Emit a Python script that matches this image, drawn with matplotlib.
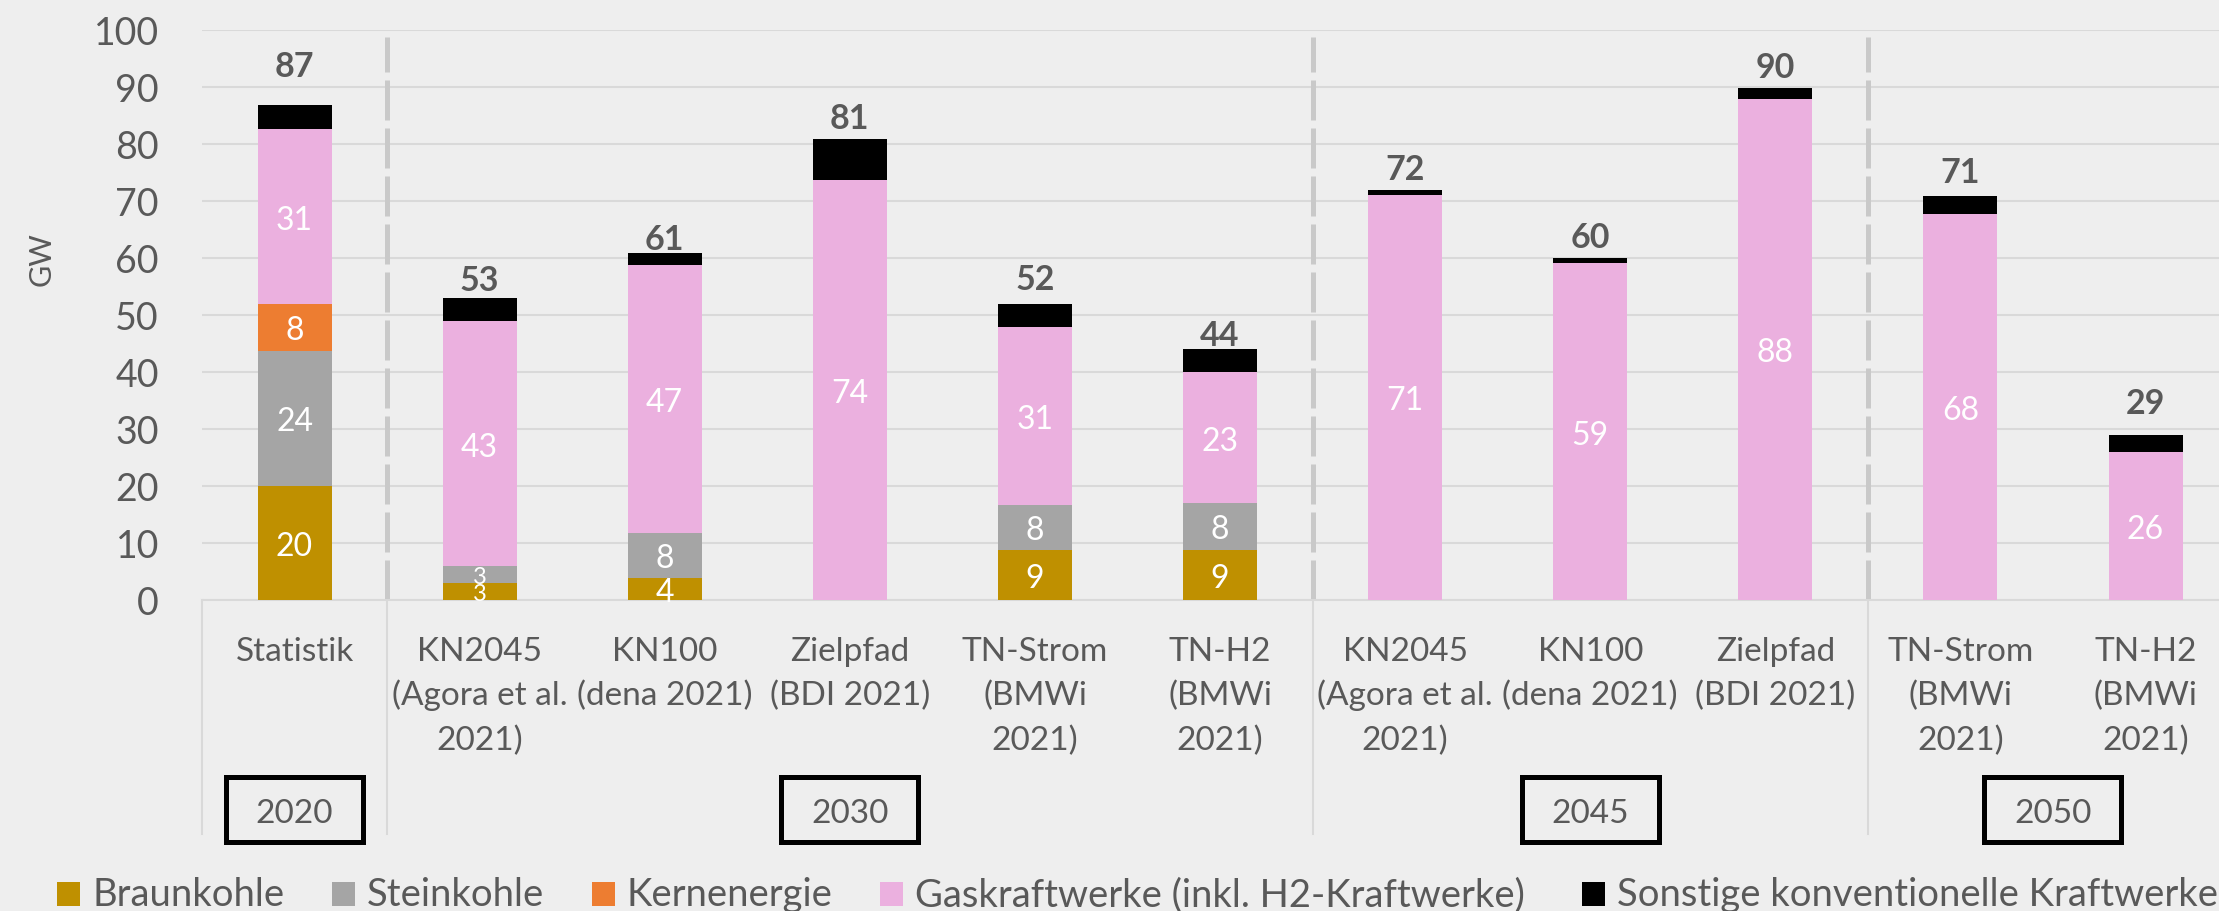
import matplotlib
matplotlib.use("Agg")
import matplotlib.pyplot as plt
from matplotlib.patches import Rectangle
from matplotlib.lines import Line2D
import numpy as np

plt.rcParams['font.family'] = ['Lato', 'DejaVu Sans']

# ---------------- data ----------------
categories = [
    ["Statistik"],
    ["KN2045", "(Agora et al.", "2021)"],
    ["KN100", "(dena 2021)"],
    ["Zielpfad", "(BDI 2021)"],
    ["TN-Strom", "(BMWi", "2021)"],
    ["TN-H2", "(BMWi", "2021)"],
    ["KN2045", "(Agora et al.", "2021)"],
    ["KN100", "(dena 2021)"],
    ["Zielpfad", "(BDI 2021)"],
    ["TN-Strom", "(BMWi", "2021)"],
    ["TN-H2", "(BMWi", "2021)"],
]
years = ["2020", "2030", "2045", "2050"]
year_centers = [0, 3, 7, 9.5]
group_bounds = [-0.5, 0.5, 5.5, 8.5]
dashed_bounds = [0.5, 5.5, 8.5]

series_names = ["Braunkohle", "Steinkohle", "Kernenergie",
                "Gaskraftwerke (inkl. H2-Kraftwerke)",
                "Sonstige konventionelle Kraftwerke"]
braunkohle = [20.0, 2.9, 3.8, 0, 8.8, 8.8, 0, 0, 0, 0, 0]
steinkohle = [23.7, 2.95, 7.95, 0, 7.9, 8.1, 0, 0, 0, 0, 0]
kernenergie = [8.2, 0, 0, 0, 0, 0, 0, 0, 0, 0, 0]
gas = [30.6, 43.0, 46.95, 73.7, 31.1, 23.0, 71.0, 59.0, 87.8, 67.7, 25.9]
sonstige = [4.3, 4.0, 2.1, 7.1, 4.1, 4.1, 0.9, 1.0, 2.0, 3.2, 3.0]

colors = ["#BF9000", "#A5A5A5", "#ED7D31", "#EBB0DF", "#000000"]
label_series = [True, True, True, True, False]

yticks = [0, 10, 20, 30, 40, 50, 60, 70, 80, 90, 100]

# style: lift of each total label above its bar (points)
total_label_lift = [21, 6, 3, 8, 11, 3, 8, 8, 8, 10, 16]

# ---------------- figure ----------------
W, H = 2219, 912
BG = "#EEEEEE"
TXT = "#595959"
GRID = "#D9D9D9"

fig = plt.figure(figsize=(W / 100, H / 100), dpi=100, facecolor=BG)
y0_px, y100_px = 600.7, 30.7
left_px = 202
cat_w = 185.1
ax = fig.add_axes([left_px / W, (H - y0_px) / H, 11 * cat_w / W, (y0_px - y100_px) / H])
ax.set_facecolor(BG)
ax.set_xlim(-0.5, 10.5)
ax.set_ylim(0, 100)
ax_h = y0_px - y100_px

def yfrac(px):
    return (y0_px - px) / ax_h

x = np.arange(len(categories))
series = [braunkohle, steinkohle, kernenergie, gas, sonstige]
bottom = np.zeros(len(categories))
for vals, col, lab in zip(series, colors, label_series):
    vals = np.array(vals, dtype=float)
    ax.bar(x, vals, width=0.4, bottom=bottom, color=col, zorder=3)
    if lab:
        for xi, v, b in zip(x, vals, bottom):
            if v > 0:
                fs = 17 if v < 3.5 else 23
                ax.text(xi, b + v / 2, f"{v:.0f}", ha="center", va="center_baseline",
                        color="white", fontsize=fs, zorder=4)
    bottom = bottom + vals

for xi, t, lift in zip(x, bottom, total_label_lift):
    ax.annotate(f"{t:.0f}", (xi, t), xytext=(0, lift), textcoords="offset points",
                ha="center", va="baseline", fontsize=24.5, fontweight="bold",
                color=TXT, zorder=5)

# grid & axes styling
for s in ["left", "right", "top"]:
    ax.spines[s].set_visible(False)
ax.spines["bottom"].set_color(GRID)
ax.spines["bottom"].set_linewidth(1.5)
ax.set_yticks(yticks)
ax.set_yticklabels([str(t) for t in yticks])
ax.tick_params(axis="y", length=0, pad=31, labelsize=27, labelcolor=TXT)
ax.set_xticks([])
ax.yaxis.grid(True, color=GRID, linewidth=1.5, zorder=0)
ax.set_axisbelow(True)

# dashed separators
for b in dashed_bounds:
    ax.plot([b, b], [0, 98.7], color="#C9C9C9", linewidth=3.6,
            linestyle=(0, (8, 1.6)), zorder=1, solid_capstyle="butt")

# category area vertical lines
xtr = ax.get_xaxis_transform()
for b in group_bounds:
    ax.add_line(Line2D([b, b], [0, yfrac(835)], transform=xtr, color=GRID,
                       linewidth=1.5, clip_on=False))

# category labels
baselines = [661, 705, 750]
for xi, lines in zip(x, categories):
    for li, line in enumerate(lines):
        ax.text(xi, yfrac(baselines[li]), line, transform=xtr, ha="center",
                va="baseline", fontsize=24, color=TXT, clip_on=False)

# year boxes
bw = 137 / cat_w
for yc, yr in zip(year_centers, years):
    ax.add_patch(Rectangle((yc - bw / 2, yfrac(843)), bw, yfrac(778) - yfrac(843),
                           transform=xtr, facecolor=BG, edgecolor="black",
                           linewidth=3.6, clip_on=False, zorder=5))
    ax.text(yc, yfrac(823), yr, transform=xtr, ha="center", va="baseline",
            fontsize=24, color=TXT, clip_on=False, zorder=6)

# y axis label
fig.text(42 / W, (H - 259) / H, "GW", rotation=90, ha="center", va="center",
         fontsize=22, color=TXT)

# legend (manual)
marker_x = [57, 332, 592, 880, 1582]
for mx, col, name in zip(marker_x, colors, series_names):
    fig.patches.append(Rectangle((mx / W, (H - 907) / H), 23 / W, 24 / H,
                                 transform=fig.transFigure, facecolor=col,
                                 edgecolor="none"))
    fig.text((mx + 35) / W, (H - 906) / H, name, ha="left", va="baseline",
             fontsize=27.5, color=TXT)

fig.savefig("out.png", dpi=100, facecolor=BG)
